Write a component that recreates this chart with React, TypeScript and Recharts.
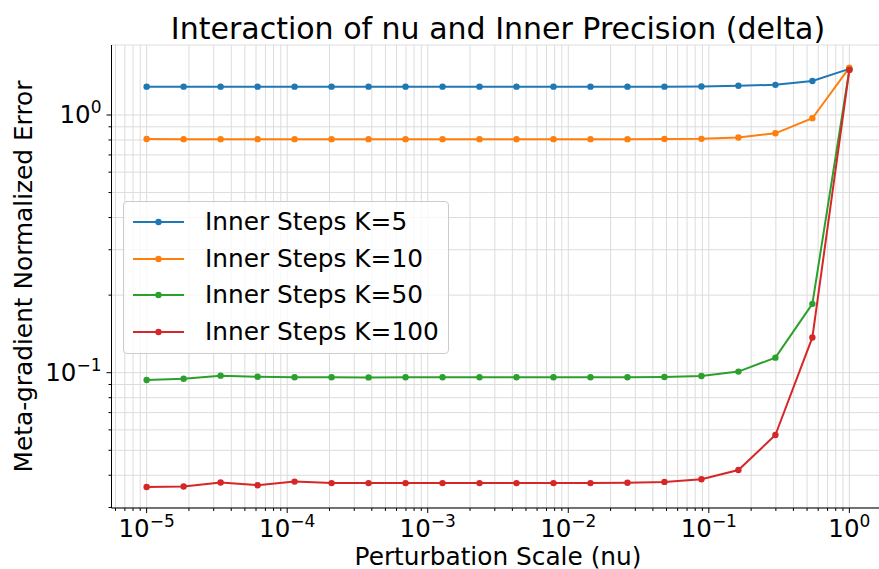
import React from "react"
import { ComposedChart, Line, XAxis, YAxis, CartesianGrid, Legend } from "recharts"

// perturbation scale nu, 20 log-spaced points
const nu = [
  1e-5, 1.833e-5, 3.36e-5, 6.158e-5, 1.1288e-4, 2.0691e-4, 3.7927e-4, 6.9519e-4, 1.2743e-3, 2.3357e-3,
  4.2813e-3, 7.8476e-3, 1.4384e-2, 2.6367e-2, 4.8329e-2, 8.8587e-2, 0.16238, 0.29764, 0.54556, 1.0,
]
const k5 = [1.288, 1.288, 1.288, 1.288, 1.288, 1.288, 1.288, 1.288, 1.288, 1.288, 1.288, 1.288, 1.288, 1.288, 1.288, 1.29, 1.299, 1.309, 1.355, 1.51]
const k10 = [0.807, 0.806, 0.806, 0.806, 0.806, 0.806, 0.806, 0.806, 0.806, 0.806, 0.806, 0.806, 0.806, 0.806, 0.807, 0.808, 0.818, 0.849, 0.971, 1.526]
const k50 = [0.0937, 0.0948, 0.0974, 0.0965, 0.096, 0.096, 0.0959, 0.096, 0.096, 0.096, 0.096, 0.096, 0.096, 0.096, 0.0962, 0.0971, 0.101, 0.1144, 0.185, 1.5]
const k100 = [0.036, 0.0362, 0.0375, 0.0366, 0.0378, 0.0373, 0.0373, 0.0373, 0.0373, 0.0373, 0.0373, 0.0373, 0.0373, 0.0374, 0.0377, 0.0386, 0.0419, 0.0573, 0.137, 1.495]

const seriesNames = ["Inner Steps K=5", "Inner Steps K=10", "Inner Steps K=50", "Inner Steps K=100"]
const seriesKeys = ["k5", "k10", "k50", "k100"]
const colors = ["#1f77b4", "#ff7f0e", "#2ca02c", "#d62728"]

const xMajor = [1e-5, 1e-4, 1e-3, 1e-2, 1e-1, 1]
const xMajorLabels = ["\u22125", "\u22124", "\u22123", "\u22122", "\u22121", "0"]
const yMajor = [0.1, 1]
const yMajorLabels = ["\u22121", "0"]

const xDomain = [5.6234e-6, 1.7783]
const yDomain = [0.029854, 1.8689]

const mantissas = [1, 2, 3, 4, 5, 6, 7, 8, 9]
const xTicks = [1e-6, 1e-5, 1e-4, 1e-3, 1e-2, 1e-1, 1]
  .flatMap((d) => mantissas.map((m) => +(m * d).toPrecision(3)))
  .filter((v) => v >= xDomain[0] && v <= xDomain[1])
const yTicks = [0.01, 0.1, 1]
  .flatMap((d) => mantissas.map((m) => +(m * d).toPrecision(3)))
  .filter((v) => v >= yDomain[0] && v <= yDomain[1])

const data = nu.map((v, i) => ({ nu: v, k5: k5[i], k10: k10[i], k50: k50[i], k100: k100[i] }))

const FONT = "'DejaVu Sans', sans-serif"
const majorIdx = (list: number[], v: number) => list.findIndex((m) => Math.abs(m - v) / m < 1e-6)

const XTick = ({ x, y, payload }: any) => {
  const i = majorIdx(xMajor, payload.value)
  return (
    <g>
      <line x1={x} x2={x} y1={y} y2={y + (i >= 0 ? 5 : 3)} stroke="#000" strokeWidth={1} />
      {i >= 0 && (
        <text x={x} y={y + 29} textAnchor="middle" fontSize={24.5} fontFamily={FONT} fill="#000">
          10<tspan dy={-10} fontSize={17}>{xMajorLabels[i]}</tspan>
        </text>
      )}
    </g>
  )
}

const YTick = ({ x, y, payload }: any) => {
  const i = majorIdx(yMajor, payload.value)
  return (
    <g>
      <line x1={x - (i >= 0 ? 5 : 3)} x2={x} y1={y} y2={y} stroke="#000" strokeWidth={1} />
      {i >= 0 && (
        <text x={x - 10} y={y + 8.5} textAnchor="end" fontSize={24.5} fontFamily={FONT} fill="#000">
          10<tspan dy={-10} fontSize={17}>{yMajorLabels[i]}</tspan>
        </text>
      )}
    </g>
  )
}

const LegendBox = () => (
  <div style={{ width: 326, height: 153, border: "1px solid #cccccc", borderRadius: 4, background: "rgba(255,255,255,0.8)", boxSizing: "border-box", position: "relative" }}>
    {seriesNames.map((name, i) => (
      <div key={name} style={{ position: "absolute", left: 0, top: 4 + i * 36.5, height: 32, width: 326 }}>
        <svg width={60} height={32} style={{ position: "absolute", left: 8, top: 0 }}>
          <line x1={1} x2={52} y1={16} y2={16} stroke={colors[i]} strokeWidth={2} />
          <circle cx={26.5} cy={16} r={3.2} fill={colors[i]} />
        </svg>
        <span style={{ position: "absolute", left: 81, top: 0, lineHeight: "32px", fontSize: 24.8, fontFamily: FONT, color: "#000", whiteSpace: "nowrap" }}>{name}</span>
      </div>
    ))}
  </div>
)

export default function App() {
  return (
    <div style={{ position: "absolute", left: 0, top: 0, width: 879, height: 569, overflow: "hidden", background: "#fff" }}>
      <svg width={879} height={569} style={{ position: "absolute", left: 0, top: 0 }}>
        <text x={498} y={38.5} textAnchor="middle" fontSize={30} fontFamily={FONT} fill="#000">Interaction of nu and Inner Precision (delta)</text>
        <text x={498} y={565} textAnchor="middle" fontSize={24.8} fontFamily={FONT} fill="#000">Perturbation Scale (nu)</text>
        <text transform="translate(32,276.5) rotate(-90)" textAnchor="middle" fontSize={24.8} fontFamily={FONT} fill="#000">Meta-gradient Normalized Error</text>
      </svg>
      <div style={{ position: "absolute", left: 0, top: 0 }}>
        <ComposedChart width={890} height={569} data={data} margin={{ top: 45, right: 5.5, left: 51.5, bottom: 21 }}>
          <CartesianGrid stroke="#dcdcdc" strokeWidth={1} />
          <XAxis dataKey="nu" type="number" scale="log" domain={xDomain} allowDataOverflow ticks={xTicks} interval={0}
            tick={<XTick />} tickLine={false} tickSize={0} tickMargin={0} height={40} axisLine={{ stroke: "#000", strokeWidth: 1 }} />
          <XAxis xAxisId="top" orientation="top" dataKey="nu" type="number" scale="log" domain={xDomain} allowDataOverflow
            tick={false} tickLine={false} height={0} axisLine={{ stroke: "#000", strokeWidth: 1 }} />
          <YAxis type="number" scale="log" domain={yDomain} allowDataOverflow ticks={yTicks} interval={0}
            tick={<YTick />} tickLine={false} tickSize={0} tickMargin={0} width={60} axisLine={{ stroke: "#000", strokeWidth: 1 }} />
          <Legend layout="vertical" align="center" verticalAlign="middle" content={<LegendBox />}
            wrapperStyle={{ position: "absolute", left: 123, top: 201, width: 326, height: 153 }} />
          {seriesKeys.map((k, i) => (
            <Line key={k} dataKey={k} name={seriesNames[i]} stroke={colors[i]} strokeWidth={2}
              dot={{ r: 3.2, fill: colors[i], stroke: colors[i], strokeWidth: 0 }} activeDot={false} isAnimationActive={false} />
          ))}
        </ComposedChart>
      </div>
    </div>
  )
}
